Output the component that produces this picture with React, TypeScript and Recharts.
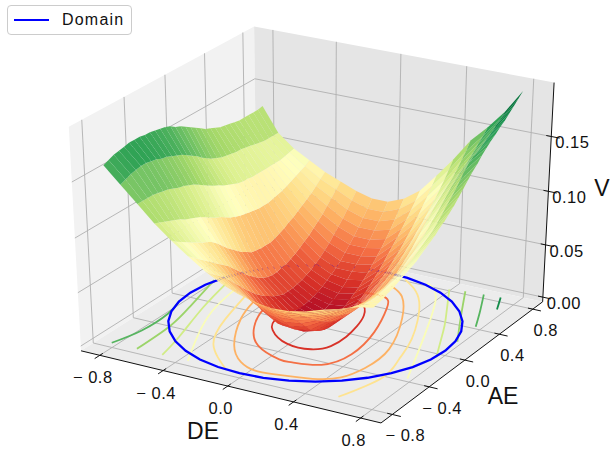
import { Legend, Scatter, ScatterChart, XAxis, YAxis } from "recharts";

const deValues = [-0.8, -0.7, -0.6, -0.5, -0.4, -0.3, -0.2, -0.1, 0, 0.1, 0.2, 0.3, 0.4, 0.5, 0.6, 0.7, 0.8];
const aeValues = [
  -0.8, -0.75, -0.7, -0.65, -0.6, -0.55, -0.5, -0.45, -0.4, -0.35, -0.3, -0.25, -0.2, -0.15, -0.1, -0.05, 0,
  0.05, 0.1, 0.15, 0.2, 0.25, 0.3, 0.35, 0.4, 0.45, 0.5, 0.55, 0.6, 0.65, 0.7, 0.75, 0.8,
];

// one row per DE value, one column per AE value
const vTable = [
  [0.162, 0.164, 0.166, 0.167, 0.168, 0.169, 0.169, 0.169, 0.168, 0.168, 0.167, 0.166, 0.165, 0.163, 0.16, 0.158, 0.155, 0.152, 0.149, 0.146, 0.143, 0.141, 0.139, 0.137, 0.136, 0.135, 0.134, 0.133, 0.133, 0.133, 0.133, 0.133, 0.134],
  [0.148, 0.15, 0.152, 0.153, 0.154, 0.154, 0.153, 0.152, 0.15, 0.149, 0.147, 0.145, 0.143, 0.14, 0.137, 0.134, 0.13, 0.127, 0.124, 0.122, 0.12, 0.119, 0.118, 0.117, 0.117, 0.116, 0.115, 0.114, 0.113, 0.112, 0.112, 0.112, 0.112],
  [0.134, 0.134, 0.134, 0.134, 0.133, 0.132, 0.131, 0.129, 0.127, 0.126, 0.124, 0.122, 0.119, 0.116, 0.113, 0.11, 0.108, 0.105, 0.103, 0.101, 0.099, 0.098, 0.098, 0.097, 0.097, 0.097, 0.097, 0.097, 0.097, 0.097, 0.098, 0.099, 0.1],
  [0.12, 0.118, 0.116, 0.114, 0.112, 0.11, 0.107, 0.105, 0.103, 0.101, 0.098, 0.095, 0.092, 0.09, 0.087, 0.084, 0.082, 0.08, 0.079, 0.078, 0.077, 0.076, 0.076, 0.076, 0.077, 0.078, 0.079, 0.081, 0.083, 0.085, 0.087, 0.089, 0.092],
  [0.108, 0.104, 0.101, 0.098, 0.095, 0.092, 0.089, 0.087, 0.084, 0.08, 0.075, 0.07, 0.066, 0.062, 0.058, 0.055, 0.052, 0.051, 0.05, 0.05, 0.05, 0.051, 0.053, 0.055, 0.058, 0.06, 0.063, 0.066, 0.069, 0.072, 0.076, 0.08, 0.084],
  [0.097, 0.093, 0.089, 0.085, 0.081, 0.077, 0.073, 0.069, 0.065, 0.06, 0.055, 0.05, 0.045, 0.041, 0.037, 0.034, 0.032, 0.031, 0.031, 0.032, 0.033, 0.035, 0.037, 0.04, 0.043, 0.046, 0.05, 0.054, 0.058, 0.063, 0.068, 0.073, 0.078],
  [0.087, 0.082, 0.078, 0.074, 0.069, 0.064, 0.058, 0.053, 0.047, 0.042, 0.037, 0.033, 0.029, 0.026, 0.023, 0.021, 0.019, 0.019, 0.019, 0.02, 0.021, 0.023, 0.025, 0.028, 0.031, 0.035, 0.039, 0.044, 0.049, 0.054, 0.06, 0.066, 0.072],
  [0.079, 0.074, 0.069, 0.064, 0.058, 0.052, 0.045, 0.039, 0.031, 0.025, 0.02, 0.017, 0.014, 0.012, 0.011, 0.01, 0.009, 0.009, 0.01, 0.011, 0.013, 0.015, 0.018, 0.021, 0.024, 0.028, 0.033, 0.038, 0.043, 0.049, 0.055, 0.061, 0.068],
  [0.073, 0.068, 0.063, 0.057, 0.051, 0.045, 0.037, 0.03, 0.022, 0.017, 0.013, 0.01, 0.008, 0.007, 0.006, 0.005, 0.004, 0.004, 0.005, 0.007, 0.009, 0.012, 0.015, 0.019, 0.024, 0.028, 0.033, 0.038, 0.043, 0.049, 0.055, 0.061, 0.068],
  [0.069, 0.064, 0.059, 0.053, 0.047, 0.04, 0.033, 0.026, 0.02, 0.016, 0.012, 0.01, 0.008, 0.007, 0.007, 0.006, 0.006, 0.006, 0.007, 0.009, 0.012, 0.015, 0.018, 0.022, 0.026, 0.031, 0.036, 0.041, 0.047, 0.053, 0.06, 0.067, 0.074],
  [0.067, 0.062, 0.057, 0.052, 0.046, 0.041, 0.035, 0.029, 0.023, 0.019, 0.016, 0.014, 0.013, 0.013, 0.013, 0.014, 0.015, 0.016, 0.018, 0.02, 0.023, 0.027, 0.031, 0.035, 0.04, 0.045, 0.05, 0.055, 0.06, 0.066, 0.072, 0.078, 0.085],
  [0.068, 0.063, 0.059, 0.054, 0.05, 0.045, 0.041, 0.037, 0.034, 0.031, 0.029, 0.028, 0.027, 0.027, 0.028, 0.029, 0.031, 0.033, 0.035, 0.037, 0.04, 0.043, 0.047, 0.051, 0.055, 0.06, 0.065, 0.07, 0.076, 0.082, 0.088, 0.095, 0.102],
  [0.071, 0.067, 0.063, 0.059, 0.055, 0.052, 0.049, 0.046, 0.044, 0.042, 0.041, 0.041, 0.041, 0.042, 0.043, 0.045, 0.047, 0.049, 0.052, 0.055, 0.058, 0.062, 0.066, 0.07, 0.075, 0.079, 0.084, 0.089, 0.094, 0.1, 0.106, 0.113, 0.12],
  [0.076, 0.072, 0.069, 0.066, 0.063, 0.061, 0.059, 0.057, 0.056, 0.055, 0.055, 0.055, 0.056, 0.057, 0.059, 0.061, 0.063, 0.067, 0.071, 0.075, 0.08, 0.085, 0.09, 0.095, 0.1, 0.104, 0.108, 0.112, 0.116, 0.121, 0.127, 0.133, 0.14],
  [0.08, 0.077, 0.075, 0.073, 0.071, 0.07, 0.07, 0.07, 0.071, 0.071, 0.072, 0.073, 0.075, 0.077, 0.08, 0.083, 0.086, 0.09, 0.094, 0.098, 0.103, 0.107, 0.112, 0.117, 0.122, 0.126, 0.13, 0.133, 0.137, 0.141, 0.146, 0.15, 0.155],
  [0.085, 0.084, 0.083, 0.082, 0.082, 0.083, 0.084, 0.085, 0.086, 0.087, 0.089, 0.091, 0.094, 0.097, 0.1, 0.103, 0.106, 0.11, 0.115, 0.12, 0.125, 0.13, 0.136, 0.142, 0.147, 0.15, 0.152, 0.155, 0.158, 0.161, 0.165, 0.168, 0.172],
  [0.088, 0.089, 0.09, 0.092, 0.093, 0.095, 0.097, 0.099, 0.101, 0.103, 0.106, 0.109, 0.112, 0.115, 0.119, 0.122, 0.126, 0.13, 0.135, 0.14, 0.145, 0.15, 0.154, 0.159, 0.163, 0.167, 0.17, 0.174, 0.177, 0.181, 0.185, 0.189, 0.193],
];

const deTicks = [-0.8, -0.4, 0, 0.4, 0.8];
const aeTicks = [-0.8, -0.4, 0, 0.4, 0.8];
const vTicks = [0, 0.05, 0.1, 0.15];

const domainDE = [0.8, 0.788, 0.752, 0.693, 0.613, 0.514, 0.4, 0.274, 0.139, 0, -0.139, -0.274, -0.4, -0.514, -0.613, -0.693, -0.752, -0.788, -0.8, -0.788, -0.752, -0.693, -0.613, -0.514, -0.4, -0.274, -0.139, 0, 0.139, 0.274, 0.4, 0.514, 0.613, 0.693, 0.752, 0.788, 0.8];
const domainAE = [0, 0.139, 0.274, 0.4, 0.514, 0.613, 0.693, 0.752, 0.788, 0.8, 0.788, 0.752, 0.693, 0.613, 0.514, 0.4, 0.274, 0.139, 0, -0.139, -0.274, -0.4, -0.514, -0.613, -0.693, -0.752, -0.788, -0.8, -0.788, -0.752, -0.693, -0.613, -0.514, -0.4, -0.274, -0.139, 0];

// contour lines on the floor, as [DE, AE] pairs
const contours: { level: number; lines: number[][][] }[] = [
  { level: 0.02, lines: [[[-0.02, 0.36], [-0.14, 0.2], [-0.2, -0.05], [-0.14, -0.22], [0.02, -0.34], [0.17, -0.34], [0.24, -0.25], [0.25, -0.1], [0.23, 0.05], [0.19, 0.2], [0.1, 0.34], [-0.02, 0.36]]] },
  { level: 0.04, lines: [[[-0.1, 0.45], [-0.3, 0.25], [-0.33, 0.01], [-0.25, -0.23], [-0.1, -0.44], [0.09, -0.54], [0.17, -0.54], [0.32, -0.49], [0.39, -0.29], [0.35, 0.03], [0.25, 0.35], [0.14, 0.49], [-0.1, 0.45]]] },
  { level: 0.06, lines: [[[-0.43, 0.06], [-0.37, -0.17], [-0.22, -0.49], [-0.07, -0.67], [0.05, -0.73], [0.17, -0.72], [0.37, -0.67], [0.49, -0.58], [0.54, -0.41], [0.53, -0.13], [0.39, 0.27], [0.24, 0.54], [0.12, 0.64]]] },
  { level: 0.08, lines: [[[-0.08, -0.8], [-0.32, -0.54], [-0.44, -0.22], [-0.51, 0.1]], [[0.6, -0.8], [0.68, -0.47], [0.64, -0.22], [0.57, 0.05], [0.36, 0.52], [0.14, 0.76]]] },
  { level: 0.1, lines: [[[-0.32, -0.8], [-0.45, -0.49], [-0.56, -0.16], [-0.61, 0.16]], [[0.8, -0.42], [0.67, -0.05], [0.55, 0.28], [0.4, 0.64], [0.27, 0.78]]] },
  { level: 0.12, lines: [[[-0.48, -0.8], [-0.53, -0.55], [-0.63, -0.14], [-0.7, 0.23]], [[0.8, -0.1], [0.67, 0.22], [0.6, 0.38], [0.42, 0.76]]] },
  { level: 0.14, lines: [[[-0.64, -0.8], [-0.65, -0.45], [-0.7, -0.16], [-0.78, 0.22]], [[0.8, 0.14], [0.67, 0.42], [0.51, 0.78]]] },
  { level: 0.16, lines: [[[-0.8, -0.8], [-0.75, -0.58], [-0.75, -0.31], [-0.79, -0.13]], [[0.79, 0.37], [0.72, 0.55], [0.62, 0.79]]] },
  { level: 0.18, lines: [[[0.78, 0.64], [0.75, 0.72], [0.72, 0.8]]] },
];

const LIM = 0.92;
const V_LOW = -0.0045;
const V_HIGH = 0.198;

// matplotlib's default 3d view, elev 30 / azim -60
function project(de: number, ae: number, v: number) {
  const X = de / (2 * LIM);
  const Y = ae / (2 * LIM);
  const Z = (v - V_LOW) / (V_HIGH - V_LOW) - 0.5;
  const u = 0.866 * X + 0.5 * Y;
  const up = -0.25 * X + 0.433 * Y + 0.866 * Z;
  const w = 10 - (0.433 * X - 0.75 * Y + 0.5 * Z);
  return { x: 315.4 + (3463 * u) / w, y: 217.9 - (2557 * up) / w, depth: w };
}

const RDYLGN = ["#a50026", "#d73027", "#f46d43", "#fdae61", "#fee08b", "#ffffbf", "#d9ef8b", "#a6d96a", "#66bd63", "#1a9850", "#006837"];

function hex(c: string) {
  return [1, 3, 5].map((i) => parseInt(c.slice(i, i + 2), 16));
}

function rdYlGn(t: number) {
  const p = Math.min(0.9999, Math.max(0, t)) * 10;
  const i = Math.floor(p);
  const a = hex(RDYLGN[i]);
  const b = hex(RDYLGN[i + 1]);
  const m = a.map((c, k) => Math.round(c + (b[k] - c) * (p - i)));
  return `rgb(${m[0]},${m[1]},${m[2]})`;
}

type P3 = [number, number, number];
const pts = (list: P3[]) => list.map((p) => project(p[0], p[1], p[2]));

const panes = [
  { fill: "#f2f2f2", corners: [[-LIM, -LIM, V_LOW], [-LIM, LIM, V_LOW], [-LIM, LIM, V_HIGH], [-LIM, -LIM, V_HIGH], [-LIM, -LIM, V_LOW]] as P3[] },
  { fill: "#e5e5e5", corners: [[-LIM, LIM, V_LOW], [LIM, LIM, V_LOW], [LIM, LIM, V_HIGH], [-LIM, LIM, V_HIGH], [-LIM, LIM, V_LOW]] as P3[] },
  { fill: "#ececec", corners: [[-LIM, -LIM, V_LOW], [LIM, -LIM, V_LOW], [LIM, LIM, V_LOW], [-LIM, LIM, V_LOW], [-LIM, -LIM, V_LOW]] as P3[] },
];

const gridLines: P3[][] = [
  ...deTicks.map((d) => [[d, -LIM, V_LOW], [d, LIM, V_LOW], [d, LIM, V_HIGH]] as P3[]),
  ...aeTicks.map((a) => [[LIM, a, V_LOW], [-LIM, a, V_LOW], [-LIM, a, V_HIGH]] as P3[]),
  ...vTicks.map((v) => [[-LIM, -LIM, v], [-LIM, LIM, v], [LIM, LIM, v]] as P3[]),
];

const axisLines: P3[][] = [
  [[-LIM, -LIM, V_LOW], [LIM, -LIM, V_LOW]],
  [[LIM, -LIM, V_LOW], [LIM, LIM, V_LOW]],
  [[LIM, LIM, V_LOW], [LIM, LIM, V_HIGH]],
  ...deTicks.map((d) => [[d, -LIM + 0.03, V_LOW], [d, -LIM - 0.05, V_LOW]] as P3[]),
  ...aeTicks.map((a) => [[LIM - 0.03, a, V_LOW], [LIM + 0.05, a, V_LOW]] as P3[]),
  ...vTicks.map((v) => [[LIM - 0.03, LIM, v], [LIM + 0.05, LIM, v]] as P3[]),
];

const minusLabel = (t: number, digits: number) => (t < 0 ? "\u2212 " : "") + Math.abs(t).toFixed(digits);

const labelData = [
  ...deTicks.map((d) => ({ ...project(d, -LIM, V_LOW), dx: -7, dy: 22, size: 16.5, text: minusLabel(d, 1) })),
  ...aeTicks.map((a) => ({ ...project(LIM, a, V_LOW), dx: 13, dy: 21, size: 16.5, text: minusLabel(a, 1) })),
  ...vTicks.map((v) => ({ ...project(LIM, LIM, v), dx: 21, dy: 6, size: 16.5, text: v.toFixed(2) })),
  { x: 203, y: 431, dx: 0, dy: 0, size: 23, text: "DE" },
  { x: 503, y: 396, dx: 0, dy: 0, size: 23, text: "AE" },
  { x: 602, y: 188, dx: 0, dy: 0, size: 23, text: "V" },
];

// facets sorted far to near, the way mplot3d paints them
const facets: { fill: string; depth: number; points: { x: number; y: number }[] }[] = [];
for (let i = 0; i < deValues.length - 1; i++) {
  for (let j = 0; j < aeValues.length - 1; j++) {
    const corners: P3[] = [
      [deValues[i], aeValues[j], vTable[i][j]],
      [deValues[i + 1], aeValues[j], vTable[i + 1][j]],
      [deValues[i + 1], aeValues[j + 1], vTable[i + 1][j + 1]],
      [deValues[i], aeValues[j + 1], vTable[i][j + 1]],
    ];
    const p = pts(corners);
    const meanV = corners.reduce((s, c) => s + c[2], 0) / 4;
    facets.push({
      fill: rdYlGn(meanV / 0.185),
      depth: p.reduce((s, q) => s + q.depth, 0) / 4,
      points: [...p, p[0]],
    });
  }
}
facets.sort((a, b) => b.depth - a.depth);

const NoPoint = () => null;

function LabelText(props: any) {
  const d = props.payload;
  return (
    <text
      x={props.cx + d.dx}
      y={props.cy + d.dy}
      textAnchor="middle"
      dominantBaseline="central"
      fontFamily="Liberation Sans, Arial, sans-serif"
      fontSize={d.size}
      letterSpacing={d.size < 20 ? 0.5 : 0}
      fill="#111"
    >
      {d.text}
    </text>
  );
}

function DomainLegend() {
  return (
    <div
      style={{
        width: 123,
        height: 28,
        boxSizing: "content-box",
        background: "#fff",
        border: "1px solid #ccc",
        borderRadius: 4,
        display: "flex",
        alignItems: "center",
        fontFamily: "Liberation Sans, Arial, sans-serif",
        fontSize: 16,
        letterSpacing: 1.2,
        color: "#111",
      }}
    >
      <span style={{ width: 35, height: 2, background: "#0000ff", marginLeft: 6, marginRight: 13 }} />
      Domain
    </div>
  );
}

function line(key: string, data: { x: number; y: number }[], stroke: string, strokeWidth: number, fill = "none", smooth = false) {
  return (
    <Scatter
      key={key}
      data={data}
      line={{ stroke, strokeWidth, fill }}
      lineJointType={smooth ? "natural" : "linear"}
      shape={NoPoint}
      legendType="none"
      isAnimationActive={false}
    />
  );
}

export default function App() {
  return (
    <div style={{ position: "absolute", left: 0, top: 0 }}>
      <ScatterChart width={610} height={450} margin={{ top: 0, right: 0, bottom: 0, left: 0 }}>
        <XAxis type="number" dataKey="x" domain={[0, 610]} hide />
        <YAxis type="number" dataKey="y" domain={[0, 450]} reversed hide />
        <Legend
          layout="vertical"
          align="center"
          verticalAlign="middle"
          content={DomainLegend}
          wrapperStyle={{ left: 7, top: 5, width: 125, height: 30 }}
        />
        {panes.map((p, i) => line(`pane${i}`, pts(p.corners), "none", 0, p.fill))}
        {gridLines.map((g, i) => line(`grid${i}`, pts(g), "#b0b0b0", 0.9))}
        {axisLines.map((a, i) => line(`axis${i}`, pts(a), "#111", 1))}
        {contours.flatMap((c) =>
          c.lines.map((l, i) =>
            line(`c${c.level}-${i}`, pts(l.map((q) => [q[0], q[1], 0] as P3)), rdYlGn(c.level / 0.195), 1.8, "none", true),
          ),
        )}
        <Scatter
          name="Domain"
          data={pts(domainDE.map((d, i) => [d, domainAE[i], 0] as P3))}
          line={{ stroke: "#0000ff", strokeWidth: 2.3, fill: "none" }}
          shape={NoPoint}
          isAnimationActive={false}
        />
        {facets.map((f, i) => line(`f${i}`, f.points, "none", 0, f.fill))}
        <Scatter data={labelData} shape={LabelText} legendType="none" isAnimationActive={false} />
      </ScatterChart>
    </div>
  );
}
